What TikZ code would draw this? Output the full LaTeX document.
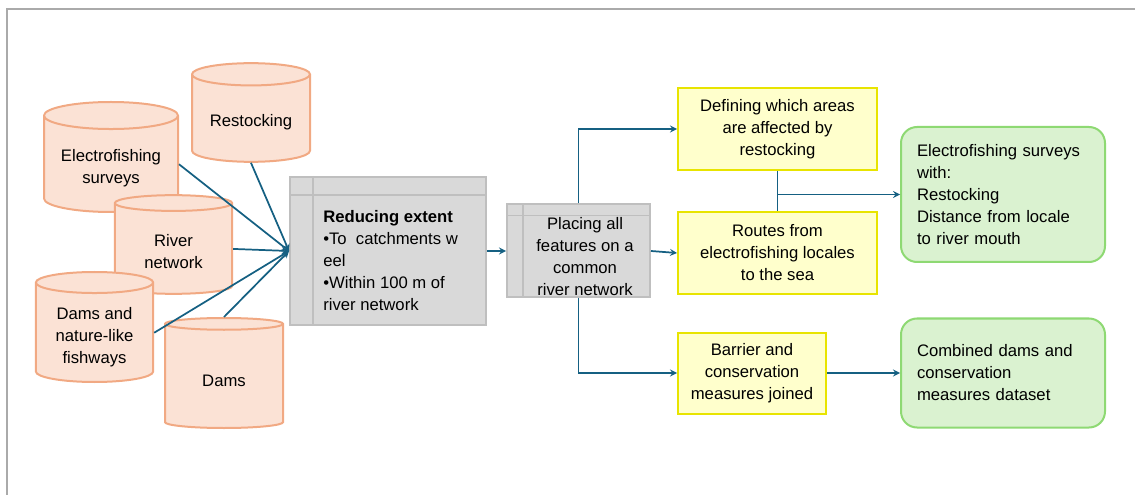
\documentclass[tikz,border=0pt]{standalone}
\usepackage{fontspec}
\setmainfont{Liberation Sans}
\usetikzlibrary{shapes.geometric,positioning}

\definecolor{cylFill}{RGB}{251,226,213}
\definecolor{cylLine}{RGB}{241,169,131}
\definecolor{greyFill}{RGB}{217,217,217}
\definecolor{greyLine}{RGB}{191,191,191}
\definecolor{yellowFill}{RGB}{255,255,204}
\definecolor{yellowLine}{RGB}{232,228,0}
\definecolor{greenFill}{RGB}{218,242,208}
\definecolor{greenLine}{RGB}{142,217,115}
\definecolor{arrowBlue}{RGB}{21,96,130}
\definecolor{frameGrey}{RGB}{170,170,170}

\begin{document}
\begin{tikzpicture}[x=0.75pt, y=-0.75pt,
    every node/.style={font=\fontsize{12.5}{16.5}\selectfont},
    cylNode/.style={cylinder, shape border rotate=90, aspect=0.27, draw=cylLine, fill=cylFill, line width=1.5pt, align=center, inner sep=0pt, anchor=shape center, text height=#1},
    cylNode/.default=15pt,
    greyNode/.style={rectangle, draw=greyLine, fill=greyFill, line width=1.5pt},
    greyRule/.style={draw=greyLine, line width=1.2pt},
    yellowNode/.style={rectangle, draw=yellowLine, fill=yellowFill, line width=1.5pt, align=center},
    greenNode/.style={rectangle, rounded corners=12pt, draw=greenLine, fill=greenFill, line width=1.5pt, align=left, text width=129pt, inner xsep=12pt, minimum width=153pt},
    arrow/.style={->, >=stealth, draw=arrowBlue, line width=1.3pt},
    link/.style={draw=arrowBlue, line width=1.3pt}]

  \useasboundingbox (0,0) rectangle (1135,495);
  \draw[frameGrey, line width=1.5pt] (1135,9) -- (7,9) -- (7,495);

  % Sources
  \node[cylNode=32pt, minimum width=100.5pt, minimum height=82.5pt] (efish) at (111,157) {Electrofishing\\surveys};
  \node[cylNode, minimum width=88.5pt, minimum height=74pt] (restock) at (251,112.5) {Restocking};
  \node[cylNode=30pt, minimum width=88pt, minimum height=74pt] (river) at (173.5,244.5) {River\\network};
  \node[cylNode=48pt, minimum width=88pt, minimum height=82.5pt] (damsfish) at (94.5,327) {Dams and\\nature-like\\fishways};
  \node[cylNode, minimum width=88.5pt, minimum height=82.5pt] (dams) at (224,373) {Dams};

  % Processing
  \node[greyNode, minimum width=147pt, minimum height=111pt] (reduce) at (388,251) {};
  \draw[greyRule] ([yshift=-14.25pt]reduce.north west) -- ([yshift=-14.25pt]reduce.north east);
  \draw[greyRule] ([xshift=18pt]reduce.north west) -- ([xshift=18pt]reduce.south west);
  \node[anchor=west, align=left, inner sep=0pt] (reduceText) at (323,260.5) {\textbf{Reducing extent}\\•To\ \ catchments w\\eel\\•Within 100 m of\\river network};

  \node[greyNode, minimum width=107.25pt, minimum height=69.75pt, right=14.25pt of reduce] (place) {};
  \draw[greyRule] ([yshift=-9pt]place.north west) -- ([yshift=-9pt]place.north east);
  \draw[greyRule] ([xshift=12.75pt]place.north west) -- ([xshift=12.75pt]place.south west);
  \node[align=center, inner sep=0pt] (placeText) at (585,256.5) {Placing all\\features on a\\common\\river network};

  % Outputs
  \node[yellowNode, minimum width=149.25pt, minimum height=61.5pt] (define) at (777.5,129) {Defining which areas\\are affected by\\restocking};
  \node[yellowNode, minimum width=149.25pt, minimum height=61.5pt, below=30pt of define] (routes) {Routes from\\electrofishing locales\\to the sea};
  \node[yellowNode, minimum width=111pt, minimum height=60.75pt] (barrier) at (752,373) {Barrier and\\conservation\\measures joined};

  \node[greenNode, minimum height=101.25pt] (result) at (1003,194.5) {Electrofishing surveys\\with:\\Restocking\\Distance from locale\\to river mouth};
  \node[greenNode, minimum height=81.75pt] (combined) at (1003,373) {Combined dams and\\conservation\\measures dataset};

  % Arrows
  \draw[arrow] (efish.east) -- (reduce.west);
  \draw[arrow] (restock.south) -- (reduce.west);
  \draw[arrow] (river.east) -- (reduce.west);
  \draw[arrow] (damsfish.east) -- (reduce.west);
  \draw[arrow] (dams.north) -- (reduce.west);

  \draw[arrow] (reduce.east) -- (place.west);
  \draw[arrow] (place.north) |- (define.west);
  \draw[arrow] (place.east) -- (routes.west);
  \draw[arrow] (place.south) |- (barrier.west);
  \draw[link] (define.south) -- (routes.north);
  \draw[arrow] (define.south |- result.west) -- (result.west);
  \draw[arrow] (barrier.east) -- (combined.west);

\end{tikzpicture}
\end{document}
